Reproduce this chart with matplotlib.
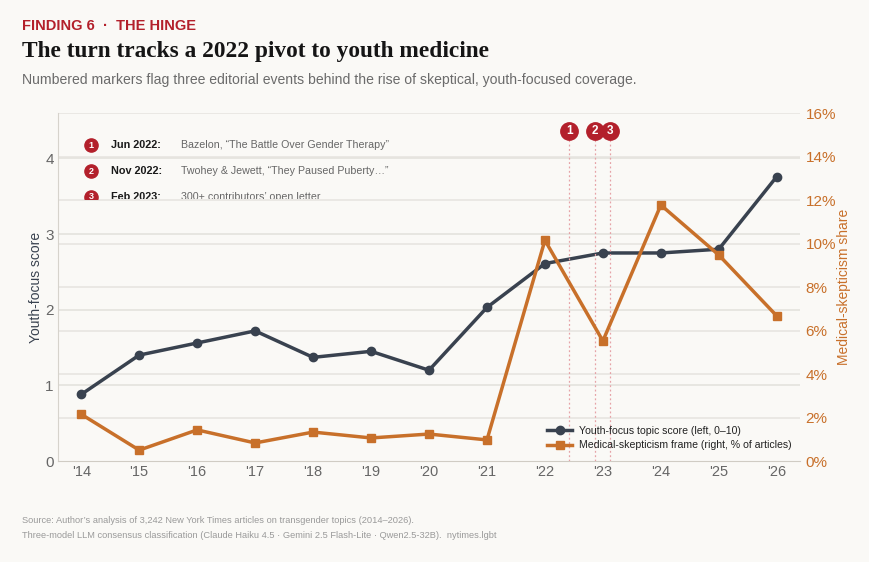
import numpy as np
import matplotlib
matplotlib.use("Agg")
import matplotlib.pyplot as plt
import matplotlib.transforms as mtransforms
from matplotlib.patches import Rectangle

plt.rcParams['font.family'] = ['Liberation Sans', 'DejaVu Sans']

# data
years = [2014, 2015, 2016, 2017, 2018, 2019, 2020, 2021, 2022, 2023, 2024, 2025, 2026]
year_labels = ["'14", "'15", "'16", "'17", "'18", "'19", "'20", "'21", "'22", "'23", "'24", "'25", "'26"]
youth_score = [0.88, 1.40, 1.56, 1.72, 1.37, 1.45, 1.20, 2.03, 2.61, 2.75, 2.75, 2.80, 3.76]
skeptic_pct = [2.15, 0.50, 1.43, 0.83, 1.33, 1.06, 1.24, 0.97, 10.15, 5.52, 11.77, 9.47, 6.67]

event_nums = ["1", "2", "3"]
event_dates = [2022.42, 2022.87, 2023.12]
event_labels = ["Jun 2022:", "Nov 2022:", "Feb 2023:"]
event_desc = ["Bazelon, \u201cThe Battle Over Gender Therapy\u201d",
              "Twohey & Jewett, \u201cThey Paused Puberty\u2026\u201d",
              "300+ contributors\u2019 open letter"]

BG = "#faf9f6"
DARK = "#39424f"
ORANGE = "#c8702a"
RED = "#b3202b"
GRID = "#e6e4df"

fig = plt.figure(figsize=(8.7, 5.62), dpi=100, facecolor=BG)
ax = fig.add_axes([0.0667, 0.1797, 0.8528, 0.6192])
ax.set_facecolor(BG)
ax2 = ax.twinx()
ax2.patch.set_visible(False)

ax.set_xlim(2013.6, 2026.4)
ax.set_ylim(0, 4.6)
ax2.set_ylim(0, 16)

# gridlines for both scales, all underneath the lines
for y in [1, 2, 3, 4]:
    ax.axhline(y, color=GRID, lw=1.3, zorder=0)
right_tr = mtransforms.blended_transform_factory(ax.transAxes, ax2.transData)
for y in range(2, 17, 2):
    ax.plot([0, 1], [y, y], transform=right_tr, color=GRID, lw=1.1, zorder=0)

l1, = ax.plot(years, youth_score, color=DARK, lw=2.5, marker='o', ms=6, zorder=5,
              label="Youth-focus topic score (left, 0\u201310)")
l2, = ax2.plot(years, skeptic_pct, color=ORANGE, lw=2.5, marker='s', ms=6, zorder=5,
               label="Medical-skepticism frame (right, % of articles)")

ax.set_xticks(years)
ax.set_xticklabels(year_labels)
ax.set_yticks([0, 1, 2, 3, 4])
ax.tick_params(axis='x', colors="#666666", labelsize=10.5, length=0, pad=3)
ax.tick_params(axis='y', colors="#666666", labelsize=11, length=0, pad=3)
ax2.set_yticks(range(0, 17, 2))
ax2.set_yticklabels([f"{v}%" for v in range(0, 17, 2)])
ax2.tick_params(axis='y', colors=ORANGE, labelsize=11, length=0, pad=4)

for a in (ax, ax2):
    for s in a.spines.values():
        s.set_visible(False)
ax.spines['left'].set_visible(True)
ax.spines['left'].set_color("#d6d3cc")
ax.spines['bottom'].set_visible(True)
ax.spines['bottom'].set_color("#d0ccc4")

ax.set_ylabel("Youth-focus score", color=DARK, fontsize=10, labelpad=2)
ax2.set_ylabel("Medical-skepticism share", color=ORANGE, fontsize=10, labelpad=1)

# event markers
for n, d in zip(event_nums, event_dates):
    ax2.axvline(d, ymax=0.93, color="#e6a3a7", lw=0.9, ls=(0, (1.5, 2)), zorder=1)
    ax2.plot(d, 0.948, transform=ax2.get_xaxis_transform(), marker='o', ms=12.5,
             color=RED, clip_on=False, zorder=6)
    ax2.text(d, 0.948, n, transform=ax2.get_xaxis_transform(), color="white",
             fontsize=8.5, fontweight='bold', ha='center', va='center', zorder=7)

# event panel
clip = Rectangle((0, 0.753), 1, 0.3, transform=ax2.transAxes, visible=False)
ax2.add_patch(clip)
row_y = [0.908, 0.833, 0.759]
for n, lab, desc, yy in zip(event_nums, event_labels, event_desc, row_y):
    m, = ax2.plot(0.0445, yy, transform=ax2.transAxes, marker='o', ms=9.5, color=RED, zorder=6)
    t0 = ax2.text(0.0445, yy, n, transform=ax2.transAxes, color="white", fontsize=6.5,
                  fontweight='bold', ha='center', va='center', zorder=7)
    t1 = ax2.text(0.0715, yy, lab, transform=ax2.transAxes, color="#1a1a1a", fontsize=7.8,
                  fontweight='bold', ha='left', va='center', zorder=7)
    t2 = ax2.text(0.166, yy, desc, transform=ax2.transAxes, color="#666666", fontsize=7.7,
                  ha='left', va='center', zorder=7)
    for art in (m, t0, t1, t2):
        art.set_clip_path(clip)
        art.set_clip_on(True)

ax2.legend(handles=[l1, l2], loc='lower right', bbox_to_anchor=(0.997, 0.012), frameon=False,
           fontsize=7.6, handlelength=2.4, labelcolor="#222222", borderaxespad=0.2,
           labelspacing=0.45, numpoints=1, handletextpad=0.6)

# header / footer
fig.text(0.025, 0.953, "FINDING 6  \u00b7  THE HINGE", color=RED, fontsize=10.5,
         fontweight='bold', ha='left', va='center')
fig.text(0.025, 0.908, "The turn tracks a 2022 pivot to youth medicine",
         family=['Liberation Serif', 'DejaVu Serif'], fontsize=16.8, fontweight='bold',
         color="#151515", ha='left', va='center')
fig.text(0.025, 0.858, "Numbered markers flag three editorial events behind the rise of "
         "skeptical, youth-focused coverage.", color="#6b6b6b", fontsize=10.1,
         ha='left', va='center')
fig.text(0.025, 0.073, "Source: Author\u2019s analysis of 3,242 New York Times articles on "
         "transgender topics (2014\u20132026).", color="#9a9a9a", fontsize=6.7,
         ha='left', va='center')
fig.text(0.025, 0.048, "Three-model LLM consensus classification (Claude Haiku 4.5 \u00b7 "
         "Gemini 2.5 Flash-Lite \u00b7 Qwen2.5-32B).  nytimes.lgbt", color="#9a9a9a",
         fontsize=6.7, ha='left', va='center')

fig.savefig("out.png", dpi=100, facecolor=BG)
